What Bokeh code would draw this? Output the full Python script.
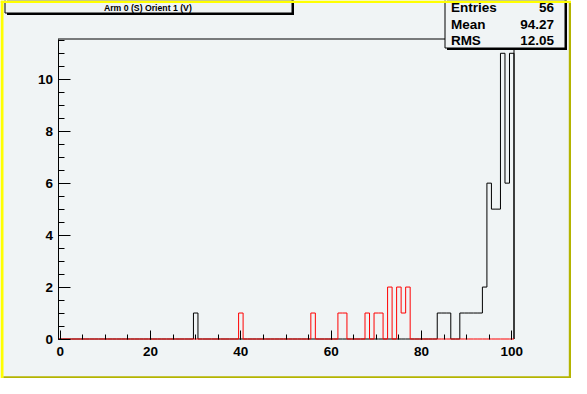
import numpy as np
from bokeh.plotting import figure
from bokeh.models import Range1d, SingleIntervalTicker, BoxAnnotation, Label
from bokeh.embed import file_html
from bokeh.resources import INLINE

# ---------------- data ----------------
black_bins = [30, 84, 85, 86, 89, 90, 91, 92, 93, 94, 95, 96, 97, 98, 99, 100]
black_counts = [1, 1, 1, 1, 1, 1, 1, 1, 1, 2, 6, 5, 5, 11, 6, 11]
red_bins = [40, 56, 62, 63, 68, 70, 71, 73, 75, 76, 77]
red_counts = [1, 1, 1, 1, 1, 1, 1, 2, 2, 1, 2]
n_bins = 101
x_low, x_high = -0.5, 100.5
y_low, y_max = 0.0, 11.55
title_text = "Arm 0 (S) Orient 1 (V)"
stats_names = ["Entries", "Mean", "RMS"]
stats_values = ["56", "94.27", "12.05"]

# ---------------- layout ----------------
W, H = 571, 378
SX, SY = W / 587.0, H / 394.0
BG = "#f0f4f5"
FONT = "Liberation Sans"


def sx(v):
    return v * SX


def sy(v):
    return v * SY


# plot frame position on the canvas (pixel centres, for crisp 1px lines)
FL, FR, FT, FB = 57.5, 513.5, 38.5, 338.5
kx = (x_high - x_low) / (FR - FL)
ky = (y_max - y_low) / (FB - FT)
xr = Range1d(x_low - FL * kx, x_high + (W - FR) * kx)
yr = Range1d(y_low - (H - FB) * ky, y_max + FT * ky)


def hist_path(bins, counts):
    full = np.zeros(n_bins)
    for b, c in zip(bins, counts):
        full[b] = c
    edges = np.linspace(x_low, x_high, n_bins + 1)
    xs = [edges[0]]
    ys = [0.0]
    for i in range(n_bins):
        xs += [edges[i], edges[i + 1]]
        ys += [full[i], full[i]]
    xs.append(edges[-1])
    ys.append(0.0)
    return xs, ys


p = figure(width=W, height=H, output_backend="svg", toolbar_location=None,
           x_range=xr, y_range=yr,
           min_border_left=0, min_border_right=0, min_border_top=0, min_border_bottom=0)
p.title.visible = False
p.background_fill_color = BG
p.border_fill_color = BG
p.outline_line_color = None
p.xgrid.visible = False
p.ygrid.visible = False

# frame outline: top and right edges (left edge = y axis line, bottom = histogram baseline)
p.line([x_low, x_high, x_high], [y_max, y_max, y_low], line_color="black", line_width=1)

# axes, drawn at the frame edges
xa, ya = p.xaxis[0], p.yaxis[0]
for ax in (xa, ya):
    ax.major_tick_line_color = "black"
    ax.minor_tick_line_color = "black"
    ax.major_tick_out = 0
    ax.minor_tick_out = 0
    ax.major_label_text_font = FONT
    ax.major_label_text_font_style = "bold"
    ax.major_label_text_font_size = "13.5px"
    ax.major_label_text_color = "black"

xa.fixed_location = y_low
xa.bounds = (x_low, x_high)
xa.axis_line_color = None
xa.ticker = SingleIntervalTicker(interval=20, num_minor_ticks=4)
xa.major_tick_in = 9
xa.minor_tick_in = 5
xa.major_label_standoff = 8

ya.fixed_location = x_low
ya.bounds = (y_low, y_max)
ya.axis_line_color = "black"
ya.ticker = SingleIntervalTicker(interval=2, num_minor_ticks=4)
ya.major_tick_in = 12
ya.minor_tick_in = 6
ya.major_label_standoff = 5

# histograms
bx, by = hist_path(black_bins, black_counts)
p.line(bx, by, line_color="black", line_width=1)
rx, ry = hist_path(red_bins, red_counts)
p.line(rx, ry, line_color="red", line_width=1)


def cbox(l, t, r, b, fill=None, line=None, lw=1):
    box = BoxAnnotation(left=l, right=r, top=t, bottom=b,
                        left_units="canvas", right_units="canvas",
                        top_units="canvas", bottom_units="canvas",
                        fill_color=fill if fill else "white", fill_alpha=1.0 if fill else 0.0,
                        line_color=line if line else "black", line_width=lw,
                        line_alpha=1.0 if line else 0.0,
                        level="overlay", editable=False)
    p.add_layout(box)


def clabel(x, y, text, align, size, font_style="bold"):
    lab = Label(x=sx(x), y=sy(y), x_units="canvas", y_units="canvas", text=text,
                text_align=align, text_baseline="middle", text_font=FONT,
                text_font_style=font_style, text_font_size=size, text_color="black",
                level="overlay")
    p.add_layout(lab)


# title box with shadow
cbox(6.5, -10, 293.5, 14.5, fill="black")
cbox(4.5, -10, 291.5, 12.5, fill=BG, line="black")
clabel(151.5, 8, title_text, "center", "8.7px")

# stats box with shadow
cbox(446.5, -10, 566.5, 49.5, fill="black")
cbox(444.5, -10, 564.5, 47.5, fill=BG, line="black")
for i, (nm, vl) in enumerate(zip(stats_names, stats_values)):
    yy = 7.5 + 17 * i
    clabel(463, yy, nm, "left", "13.5px")
    clabel(569, yy, vl, "right", "13.5px")

# canvas bevel border
cbox(0, 0, 3, H, fill="#ffff00")
cbox(0, 0, W, 2.5, fill="#ffff00")
cbox(W - 2.7, 2.5, W, H, fill="#b4b400")
cbox(3, H - 2.2, W, H, fill="#b4b400")

open("out.html", "w").write(file_html(p, INLINE))
